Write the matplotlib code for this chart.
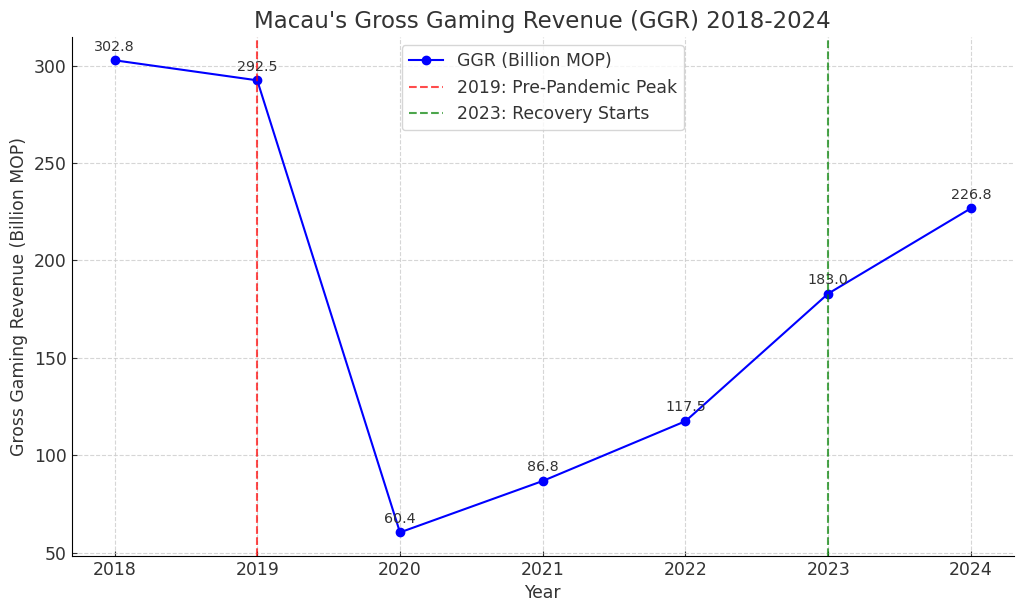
import matplotlib.pyplot as plt

years = [2018, 2019, 2020, 2021, 2022, 2023, 2024]
ggr = [302.8, 292.5, 60.4, 86.8, 117.5, 183.0, 226.8]

plt.rcParams['font.family'] = ['DejaVu Sans']
plt.rcParams['text.color'] = '#333333'
plt.rcParams['axes.labelcolor'] = '#333333'
plt.rcParams['xtick.color'] = '#333333'
plt.rcParams['ytick.color'] = '#333333'

fig, ax = plt.subplots(figsize=(10.24, 6.11), dpi=100)
ax.plot(years, ggr, marker='o', color='blue', label='GGR (Billion MOP)')
ax.axvline(2019, color='red', linestyle='--', alpha=0.7, label='2019: Pre-Pandemic Peak')
ax.axvline(2023, color='green', linestyle='--', alpha=0.7, label='2023: Recovery Starts')

for x, y in zip(years, ggr):
    ax.annotate(f'{y:.1f}', (x, y), textcoords='offset points', xytext=(0, 7),
                ha='center', fontsize=10.3)

ax.set_title("Macau's Gross Gaming Revenue (GGR) 2018-2024", fontsize=16.5)
ax.set_xlabel('Year', fontsize=12.4)
ax.set_ylabel('Gross Gaming Revenue (Billion MOP)', fontsize=12.4)
ax.set_xticks(years)
ax.tick_params(labelsize=12.4, direction='in')
ax.grid(True, linestyle='--', color='#cccccc', alpha=0.8)
ax.spines['top'].set_visible(False)
ax.spines['right'].set_visible(False)
ax.legend(loc='upper center', fontsize=12.4)

fig.subplots_adjust(left=0.07, right=0.99, top=0.94, bottom=0.09)
fig.savefig('out.png')
